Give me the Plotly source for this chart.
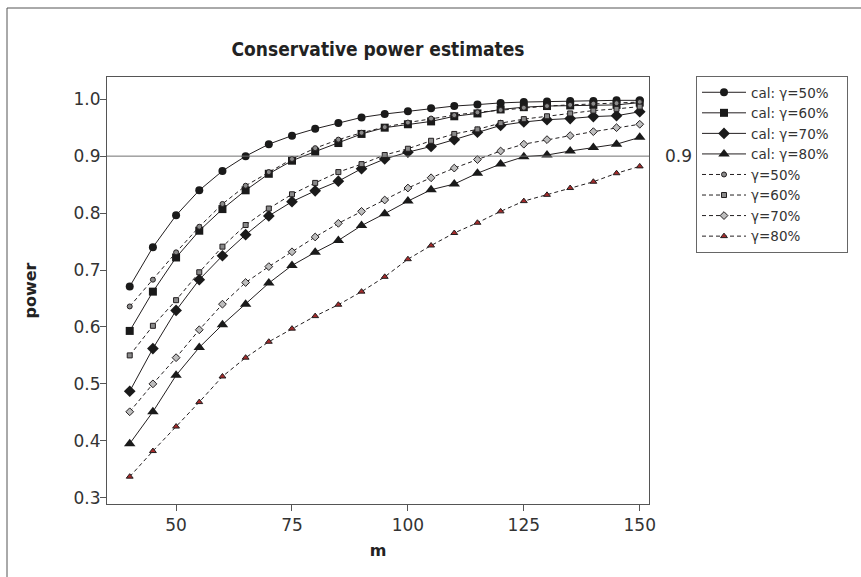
import plotly.graph_objects as go

m = [40, 45, 50, 55, 60, 65, 70, 75, 80, 85, 90, 95, 100, 105, 110, 115, 120, 125, 130, 135, 140, 145, 150]

cal50 = [0.671, 0.740, 0.796, 0.840, 0.874, 0.900, 0.921, 0.936, 0.948, 0.958, 0.968, 0.974, 0.979, 0.984,
         0.988, 0.9905, 0.9935, 0.995, 0.996, 0.997, 0.997, 0.998, 0.998]
cal60 = [0.593, 0.662, 0.722, 0.769, 0.807, 0.840, 0.869, 0.892, 0.908, 0.923, 0.939, 0.950, 0.956, 0.961,
         0.970, 0.975, 0.982, 0.986, 0.988, 0.989, 0.990, 0.990, 0.994]
cal70 = [0.487, 0.562, 0.629, 0.683, 0.725, 0.762, 0.795, 0.820, 0.839, 0.856, 0.878, 0.895, 0.907, 0.917,
         0.929, 0.942, 0.954, 0.960, 0.964, 0.966, 0.9695, 0.971, 0.978]
cal80 = [0.395, 0.451, 0.515, 0.564, 0.604, 0.640, 0.677, 0.708, 0.731, 0.752, 0.778, 0.799, 0.821, 0.841,
         0.851, 0.870, 0.886, 0.899, 0.902, 0.909, 0.915, 0.921, 0.933]
g50 = [0.636, 0.683, 0.731, 0.776, 0.816, 0.848, 0.872, 0.895, 0.914, 0.929, 0.941, 0.951, 0.959, 0.966,
       0.972, 0.977, 0.981, 0.985, 0.988, 0.990, 0.992, 0.993, 0.995]
g60 = [0.550, 0.602, 0.647, 0.696, 0.741, 0.779, 0.808, 0.833, 0.853, 0.872, 0.886, 0.902, 0.913, 0.927,
       0.939, 0.947, 0.958, 0.965, 0.970, 0.975, 0.980, 0.983, 0.987]
g70 = [0.451, 0.500, 0.546, 0.595, 0.640, 0.678, 0.706, 0.732, 0.758, 0.782, 0.803, 0.823, 0.844, 0.862,
       0.879, 0.894, 0.909, 0.921, 0.929, 0.936, 0.943, 0.950, 0.956]
g80 = [0.337, 0.382, 0.425, 0.468, 0.513, 0.546, 0.574, 0.597, 0.619, 0.639, 0.662, 0.688, 0.719, 0.743,
       0.765, 0.783, 0.803, 0.821, 0.832, 0.844, 0.855, 0.870, 0.882]

names = ["cal: γ=50%", "cal: γ=60%", "cal: γ=70%", "cal: γ=80%", "γ=50%", "γ=60%", "γ=70%", "γ=80%"]
series = [cal50, cal60, cal70, cal80, g50, g60, g70, g80]
symbols = ["circle", "square", "diamond", "triangle-up", "circle", "square", "diamond", "triangle-up"]
sizes = [8, 8, 9, 10, 5, 5, 6, 6]
fills = ["#1a1a1a", "#1a1a1a", "#1a1a1a", "#1a1a1a", "#8a8a8a", "#8a8a8a", "#bdbdbd", "#a52a2a"]
dashes = ["solid"] * 4 + ["4px,3px"] * 4

ink = "#231f20"
fig = go.Figure()
for nm, ys, sym, sz, fc, ds in zip(names, series, symbols, sizes, fills, dashes):
    fig.add_trace(go.Scatter(
        x=m, y=ys, name=nm + "\u00a0\u00a0\u00a0", mode="lines+markers",
        line=dict(color=ink, width=1, dash=ds),
        marker=dict(symbol=sym, size=sz, color=fc, line=dict(color=ink, width=1 if sz < 7 else 0)),
    ))

fig.add_hline(y=0.9, line=dict(color="#707070", width=1))
fig.add_annotation(x=1.0, xref="paper", y=0.9, yref="y", text="0.9", showarrow=False,
                   xanchor="left", xshift=14, font=dict(size=17, color="#333333", family="DejaVu Sans"))

# outer frame
fx = (7 - 107) / 542
fy = (504 - 8) / 427
fig.add_shape(type="line", xref="paper", yref="paper", x0=fx, y0=fy, x1=1.5, y1=fy,
              line=dict(color="#555555", width=1))
fig.add_shape(type="line", xref="paper", yref="paper", x0=fx, y0=fy, x1=fx, y1=-0.3,
              line=dict(color="#555555", width=1))

fig.update_layout(
    width=861, height=577,
    margin=dict(l=107, r=212, t=77, b=73),
    paper_bgcolor="white", plot_bgcolor="white",
    font=dict(family="DejaVu Sans", color="#333333"),
    title=dict(text="<b>Conservative power estimates</b>", x=378 / 861, xanchor="center",
               y=1 - 49 / 577, yanchor="middle",
               font=dict(size=19, family="DejaVu Sans Condensed, DejaVu Sans", color="#222222")),
    xaxis=dict(range=[35.1, 152.0], tickvals=[50, 75, 100, 125, 150], showgrid=False, zeroline=False,
               showline=True, linecolor="#555555", linewidth=1, mirror=True,
               ticks="outside", ticklen=6, tickcolor="#555555",
               tickfont=dict(size=17, color="#333333"),
               title=dict(text="<b>m</b>", font=dict(size=16, color="#222222"), standoff=10)),
    yaxis=dict(range=[0.289, 1.039], tickvals=[0.3, 0.4, 0.5, 0.6, 0.7, 0.8, 0.9, 1.0], tickformat=".1f",
               showgrid=False, zeroline=False,
               showline=True, linecolor="#555555", linewidth=1, mirror=True,
               ticks="outside", ticklen=6, tickcolor="#555555", ticklabelstandoff=-4,
               tickfont=dict(size=17, color="#333333"),
               title=dict(text="<b>power</b>", font=dict(size=16, color="#222222"), standoff=32)),
    legend=dict(x=(696 - 107) / 542, xanchor="left", y=(504 - 76) / 427, yanchor="top",
                bordercolor="#666666", borderwidth=1, bgcolor="white", itemwidth=44,
                font=dict(size=13.5, color="#333333"), tracegroupgap=0),
    showlegend=True,
)

fig.write_html("out.html", post_script="document.body.style.margin='0';",
               config={"displayModeBar": False})
